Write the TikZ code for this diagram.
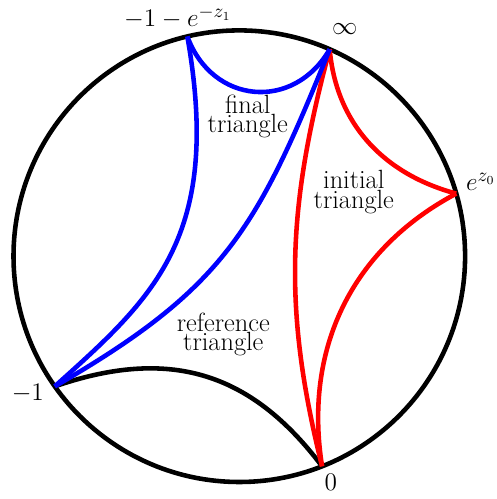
\documentclass[tikz,border=0pt]{standalone}
\usepackage{fontspec}

\newcommand{\diskr}{4.516}

\tikzset{
  geo/.style={line width=2.6pt},
  lbl/.style={font=\fontsize{15}{11}\selectfont, align=center, inner sep=0pt},
}

\begin{document}
\begin{tikzpicture}
\useasboundingbox (-4.786,-4.856) rectangle (5.134,5.124);
\coordinate (o) at (0,0);
\coordinate (inf) at (66.4:\diskr);
\coordinate (ez) at (16.1:\diskr);
\coordinate (zero) at (-68.5:\diskr);
\coordinate (mone) at (215.2:\diskr);
\coordinate (fin) at (103.3:\diskr);

\draw[geo] (o) circle (\diskr);
% reference triangle (bottom side)
\draw[geo] (mone) to[out=19,in=127,looseness=1.1] (zero);
% initial triangle
\draw[geo,red] (inf) to[out=-85,in=165] (ez);
\draw[geo,red] (zero) to[out=99,in=208] (ez);
\draw[geo,red] (inf) to[out=-105,in=104] (zero);
% final triangle
\draw[geo,blue] (inf) to[out=-112,in=30,looseness=1.15] (mone);
\draw[geo,blue] (fin) to[out=-80,in=42,out looseness=1.4,in looseness=0.9] (mone);
\draw[geo,blue] (fin) to[out=-70,in=-120,looseness=1.29] (inf);

\node[lbl] (linf) at (2.11,4.54) {$\infty$};
\node[lbl] (lez) at (4.83,1.48) {$e^{z_0}$};
\node[lbl] (lzero) at (1.83,-4.52) {$0$};
\node[lbl] (lmone) at (-4.23,-2.74) {$-1$};
\node[lbl] (lfin) at (-1.23,4.78) {$-1-e^{-z_1}$};

\node[lbl] (tfin) at (0.17,2.80) {final\\triangle};
\node[lbl] (tini) at (2.29,1.28) {initial\\triangle};
\node[lbl] (tref) at (-0.32,-1.56) {reference\\triangle};
\end{tikzpicture}
\end{document}
